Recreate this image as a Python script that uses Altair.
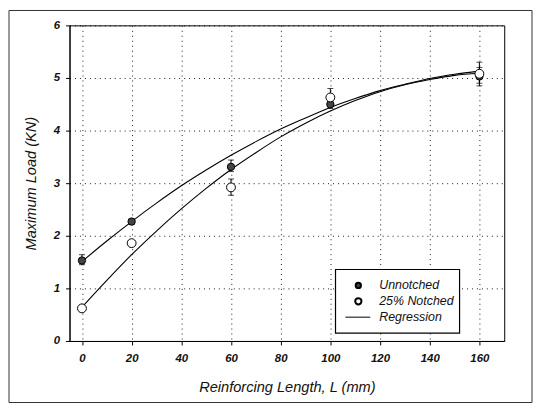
import altair as alt
import pandas as pd

# Measured points
lengths = [0, 20, 60, 100, 160]
unnotched = [1.53, 2.27, 3.31, 4.50, 5.03]
unnotched_lo = [1.45, 2.22, 3.22, 4.42, 4.85]
unnotched_hi = [1.64, 2.32, 3.44, 4.58, 5.20]
notched = [0.62, 1.86, 2.92, 4.63, 5.08]
notched_lo = [0.57, 1.81, 2.77, 4.45, 4.90]
notched_hi = [0.67, 1.91, 3.08, 4.80, 5.30]

# Regression curves
curve_x = [0, 10, 20, 30, 40, 50, 60, 70, 80, 90, 100, 110, 120, 130, 140, 150, 160]
curve_unnotched = [1.51, 1.90, 2.27, 2.62, 2.95, 3.25, 3.53, 3.79, 4.03, 4.24, 4.44, 4.61, 4.76, 4.88, 4.99, 5.07, 5.13]
curve_notched = [0.64, 1.15, 1.64, 2.09, 2.51, 2.90, 3.26, 3.58, 3.88, 4.14, 4.37, 4.57, 4.74, 4.87, 4.97, 5.05, 5.09]

x_ticks = [0, 20, 40, 60, 80, 100, 120, 140, 160]
y_ticks = [0, 1, 2, 3, 4, 5, 6]

FONT = "Liberation Sans"

pts = pd.DataFrame({
    "x": lengths * 2,
    "y": unnotched + notched,
    "lo": unnotched_lo + notched_lo,
    "hi": unnotched_hi + notched_hi,
    "series": ["Unnotched"] * 5 + ["25% Notched"] * 5,
})
curves = pd.DataFrame({
    "x": curve_x * 2,
    "y": curve_unnotched + curve_notched,
    "series": ["Unnotched"] * len(curve_x) + ["25% Notched"] * len(curve_x),
})

common = dict(grid=True, gridDash=[1, 4], gridColor="black", gridOpacity=0.9,
              domainColor="black", tickColor="black", tickSize=4,
              labelFont=FONT, labelFontSize=11.5, labelFontStyle="italic",
              labelFontWeight="bold", labelColor="#111",
              titleFont=FONT, titleFontSize=14.7, titleFontStyle="italic",
              titleFontWeight="normal", titleColor="#111")
xaxis = alt.Axis(values=x_ticks, title="Reinforcing Length, L (mm)",
                 labelPadding=8, titlePadding=15, **common)
yaxis = alt.Axis(values=y_ticks, title="Maximum Load (KN)",
                 labelPadding=6, titlePadding=15, **common)

xs = alt.Scale(domain=[-5, 170], nice=False, zero=False)
ys = alt.Scale(domain=[0, 6], nice=False)


def X(field):
    return alt.X(field, type="quantitative", scale=xs, axis=xaxis)


def Y(field):
    return alt.Y(field, type="quantitative", scale=ys, axis=yaxis)


one = pd.DataFrame({"a": [0]})

# outer frame (no fill so the axes stay visible)
frame = alt.Chart(one).mark_rect(
    fillOpacity=0, stroke="#333", strokeWidth=1
).encode(x=alt.value(-61), x2=alt.value(466), y=alt.value(-15), y2=alt.value(380))

lines = alt.Chart(curves).mark_line(color="black", strokeWidth=1.1, interpolate="monotone").encode(
    x=X("x"), y=Y("y"), detail="series:N"
)

err = alt.Chart(pts).mark_rule(color="black", strokeWidth=1).encode(
    x=X("x"), y=Y("lo"), y2="hi"
)
cap_lo = alt.Chart(pts).mark_tick(orient="horizontal", size=6, thickness=1, color="black").encode(
    x=X("x"), y=Y("lo")
)
cap_hi = alt.Chart(pts).mark_tick(orient="horizontal", size=6, thickness=1, color="black").encode(
    x=X("x"), y=Y("hi")
)

pts_u = alt.Chart(pts[pts.series == "Unnotched"]).mark_point(
    filled=True, size=55, color="#444", stroke="black", strokeWidth=1, opacity=1
).encode(x=X("x"), y=Y("y"))
pts_n = alt.Chart(pts[pts.series == "25% Notched"]).mark_point(
    filled=True, size=80, fill="white", stroke="black", strokeWidth=1, opacity=1
).encode(x=X("x"), y=Y("y"))

# legend
leg_box = alt.Chart(one).mark_rect(fill="white", stroke="black", strokeWidth=1.2).encode(
    x=alt.value(268), x2=alt.value(393), y=alt.value(246), y2=alt.value(310)
)
leg_s1 = alt.Chart(one).mark_point(filled=True, size=28, color="#444", stroke="black", opacity=1).encode(
    x=alt.value(291), y=alt.value(262)
)
leg_s2 = alt.Chart(one).mark_point(filled=True, size=40, fill="white", stroke="black", opacity=1).encode(
    x=alt.value(291), y=alt.value(278)
)
leg_s3 = alt.Chart(one).mark_rule(color="black", strokeWidth=1).encode(
    x=alt.value(278), x2=alt.value(303), y=alt.value(294)
)
leg_labels = ["Unnotched", "25% Notched", "Regression"]
leg_texts = [
    alt.Chart(one).mark_text(text=t, align="left", baseline="middle", font=FONT, fontSize=12.5,
                             fontStyle="italic", color="#111").encode(
        x=alt.value(312), y=alt.value(262 + 16 * i))
    for i, t in enumerate(leg_labels)
]

chart = alt.layer(
    frame, lines, err, cap_lo, cap_hi, pts_u, pts_n, leg_box, leg_s1, leg_s2, leg_s3, *leg_texts
).properties(
    width=438, height=318,
    autosize=alt.AutoSizeParams(type="none"),
    padding={"left": 62, "top": 16, "right": 30, "bottom": 63},
    background="white",
).configure_view(stroke="black", strokeWidth=1)

chart.save("out.html", embed_options={"renderer": "svg", "actions": False})
